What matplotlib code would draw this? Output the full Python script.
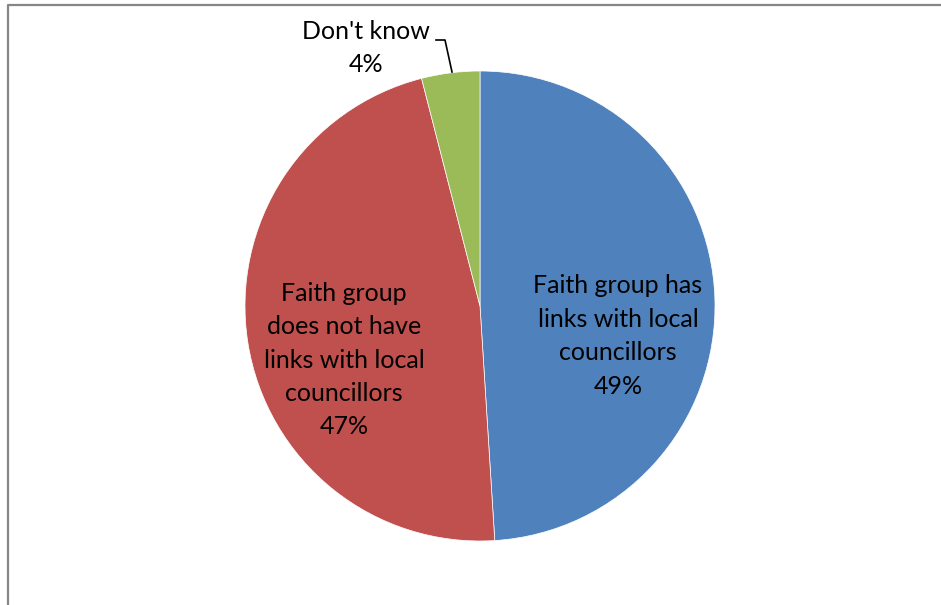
import matplotlib.pyplot as plt
from matplotlib.lines import Line2D

plt.rcParams['font.family'] = ['Lato', 'DejaVu Sans']

labels = ["Faith group has\nlinks with local\ncouncillors",
          "Faith group\ndoes not have\nlinks with local\ncouncillors",
          "Don't know"]
shares = [49, 47, 4]
colors = ["#4F81BD", "#C0504D", "#9BBB59"]

W, H = 941, 605
fig = plt.figure(figsize=(W / 100, H / 100), dpi=100)
ax = fig.add_axes([0, 0, 1, 1])
ax.set_xlim(0, W)
ax.set_ylim(0, H)
ax.set_aspect("equal")
ax.axis("off")

wedges, _ = ax.pie(shares, colors=colors, startangle=90, counterclock=False,
                   center=(480, H - 306), radius=235,
                   wedgeprops=dict(edgecolor="white", linewidth=0.5))
ax.set_xlim(0, W)
ax.set_ylim(0, H)

txt = dict(ha="center", va="center", fontsize=18, linespacing=1.55)

# in-slice labels
ax.text(618, H - 336, f"{labels[0]}\n{shares[0]}%", **txt)
ax.text(344, H - 360, f"{labels[1]}\n{shares[1]}%", **txt)

# outside label with leader line
ax.text(366, H - 48, f"{labels[2]}\n{shares[2]}%", **txt)
ax.plot([436, 445, 452], [H - 40, H - 40, H - 72], color="black", lw=1.2)

# chart area border (open at right and bottom)
fig.add_artist(Line2D([7.5 / W, 7.5 / W, 1], [0, 1 - 4.5 / H, 1 - 4.5 / H],
                      transform=fig.transFigure, color="#868686", lw=1.6))

fig.savefig("out.png", dpi=100)
